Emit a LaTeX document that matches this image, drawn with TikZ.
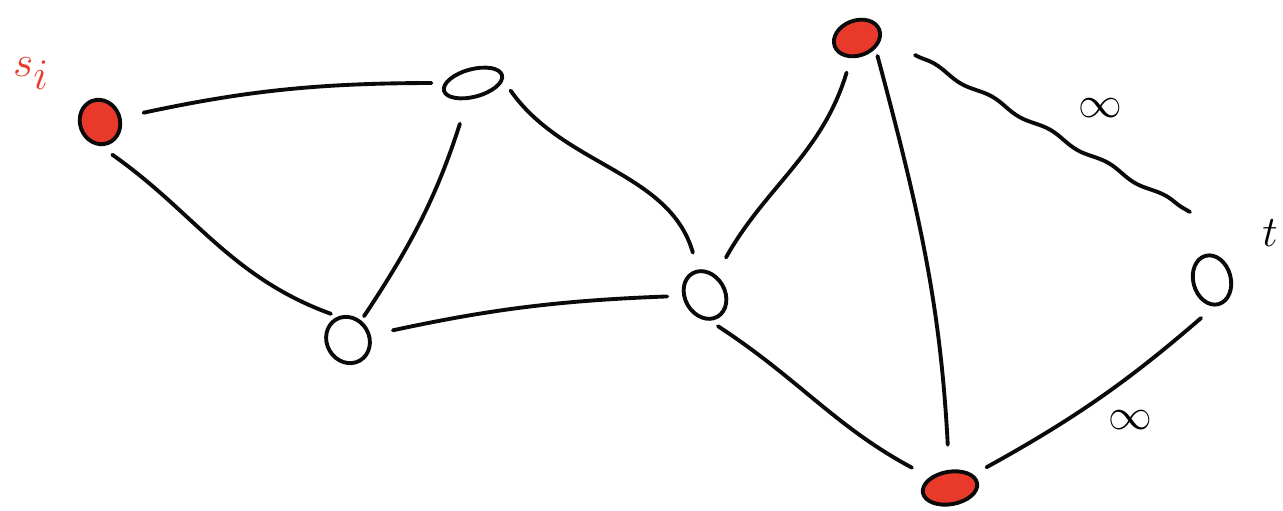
\documentclass[tikz,border=0pt]{standalone}
\usepackage{xcolor}
\definecolor{InkRed}{HTML}{E8392A}
\definecolor{InkBlack}{HTML}{0A0A0A}
\usepackage{tikz}
\usetikzlibrary{shapes.geometric,decorations.pathmorphing,calc}
\tikzset{
  vtx/.style={draw=InkBlack, ellipse, line width=2.2pt, inner sep=0pt},
  hotvtx/.style={vtx, fill=InkRed},
  edgeline/.style={draw=InkBlack, line width=2.2pt, line cap=round},
  wavy/.style={edgeline, decorate, decoration={snake, amplitude=1.2pt, segment length=38pt}},
  lbl/.style={font=\fontsize{33}{38}\selectfont, inner sep=0pt}
}

\begin{document}
\begin{tikzpicture}
\useasboundingbox (0,0) rectangle (25.66,10.22);
% vertices
\node[hotvtx, minimum width=0.8cm, minimum height=0.9cm, rotate=20] (s) at (2.00,7.78) {};
\node[vtx, minimum width=1.2cm, minimum height=0.55cm, rotate=15] (a) at (9.46,8.56) {};
\node[vtx, minimum width=0.85cm, minimum height=0.95cm, rotate=30] (b) at (6.96,3.42) {};
\node[vtx, minimum width=0.8cm, minimum height=1.0cm, rotate=30] (c) at (14.10,4.32) {};
\node[hotvtx, minimum width=0.95cm, minimum height=0.7cm, rotate=20] (d) at (17.14,9.46) {};
\node[hotvtx, minimum width=1.1cm, minimum height=0.65cm, rotate=10] (e) at (19.00,0.46) {};
\node[vtx, minimum width=0.75cm, minimum height=1.0cm, rotate=15] (t) at (24.24,4.62) {};
% ends of the wavy edge
\coordinate (w1) at ($(d)+(1.16,-0.34)$);
\coordinate (w2) at ($(t)+(-0.44,1.36)$);
% labels
\node[lbl, text=InkRed] (slbl) at (0.62,8.75) {$s_i$};
\node[lbl] (tlbl) at (25.40,5.55) {$t$};
\node[lbl] (inf1) at (22.00,8.06) {$\infty$};
\node[lbl] (inf2) at (22.60,1.82) {$\infty$};
% edges
\draw[edgeline, shorten <=0.45cm, shorten >=0.25cm] (s) to[bend left=6] (a);
\draw[edgeline, shorten <=0.3cm, shorten >=0.15cm] (s.-110) to[out=-35, in=160] (b.83);
\draw[edgeline, shorten <=0.5cm, shorten >=0.1cm] (a) to[bend left=8] (b);
\draw[edgeline, shorten <=0.25cm, shorten >=0.35cm] (a.-10) to[out=-55, in=100] (c);
\draw[edgeline, shorten <=0.45cm, shorten >=0.3cm] (b) to[bend left=5] (c);
\draw[edgeline, shorten <=0.4cm, shorten >=0.3cm] (c) to[out=55, in=-110] (d);
\draw[edgeline, shorten <=0.2cm, shorten >=0.4cm] (c.-110) to[out=-33, in=150] (e);
\draw[edgeline, shorten <=0.15cm, shorten >=0.5cm] (d.-50) to[out=-75, in=92] (e);
\draw[wavy] (w1) -- (w2);
\draw[edgeline, shorten <=0.3cm, shorten >=0.35cm] (e.20) to[bend right=6] (t.-100);
\end{tikzpicture}
\end{document}
